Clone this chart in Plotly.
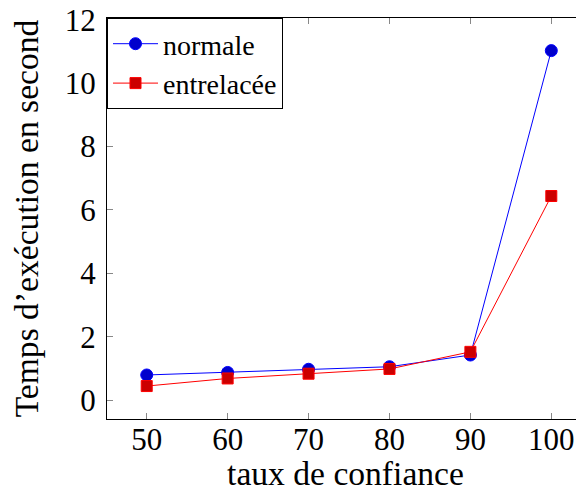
import plotly.graph_objects as go

taux = [50, 60, 70, 80, 90, 100]
normale = [0.79, 0.87, 0.97, 1.05, 1.42, 11.03]
entrelacee = [0.44, 0.68, 0.83, 0.98, 1.52, 6.44]
x_ticks = [50, 60, 70, 80, 90, 100]
y_ticks = [0, 2, 4, 6, 8, 10, 12]

FONT = "Liberation Serif"
XR = [45.09, 104.04]
YR = [-0.6, 12.06]

fig = go.Figure()
fig.add_trace(go.Scatter(
    x=taux, y=normale, name="normale", mode="lines+markers",
    line=dict(color="#0000ff", width=1),
    marker=dict(symbol="circle", size=12, color="#0000cc", line=dict(color="#0000ff", width=1)),
))
fig.add_trace(go.Scatter(
    x=taux, y=entrelacee, name="entrelacée", mode="lines+markers",
    line=dict(color="#ff0000", width=1),
    marker=dict(symbol="square", size=11, color="#cc0000", line=dict(color="#ff0000", width=1)),
))
fig.add_trace(go.Scatter(x=[taux[0]], y=[normale[0]], xaxis="x2", yaxis="y2",
                         mode="markers", marker=dict(opacity=0), showlegend=False, hoverinfo="skip"))

tick_style = dict(ticks="inside", ticklen=6, tickcolor="#888888", tickwidth=1)

fig.update_layout(
    width=576, height=484,
    margin=dict(l=99, r=0, t=10, b=73, autoexpand=False),
    paper_bgcolor="white", plot_bgcolor="white",
    font=dict(family=FONT, size=28, color="black"),
    showlegend=True,
    legend=dict(x=0, y=1, xanchor="left", yanchor="top",
                bordercolor="black", borderwidth=1, bgcolor="white",
                font=dict(family=FONT, size=28), tracegroupgap=0, itemwidth=45),
    xaxis=dict(range=XR, tickvals=x_ticks, showgrid=False, zeroline=False, automargin=False,
               showline=True, linecolor="black", linewidth=1, mirror=True,
               tickfont=dict(size=31), ticklabeloverflow="allow",
               title=dict(text="taux de confiance", standoff=20, font=dict(size=33.6)),
               ticklabelstandoff=-7, **tick_style),
    yaxis=dict(range=YR, tickvals=y_ticks, showgrid=False, zeroline=False, automargin=False,
               showline=True, linecolor="black", linewidth=1,
               tickfont=dict(size=31), ticklabeloverflow="allow",
               title=dict(text="Temps d’exécution en second", standoff=22, font=dict(size=33.6)),
               ticklabelstandoff=4, **tick_style),
    xaxis2=dict(range=XR, tickvals=x_ticks, overlaying="x", side="top", showticklabels=False,
                showgrid=False, zeroline=False, showline=False, automargin=False, **tick_style),
    yaxis2=dict(range=YR, tickvals=y_ticks, overlaying="y", side="right", showticklabels=False,
                showgrid=False, zeroline=False, showline=False, automargin=False, **tick_style),
)

fig.write_html("out.html")
